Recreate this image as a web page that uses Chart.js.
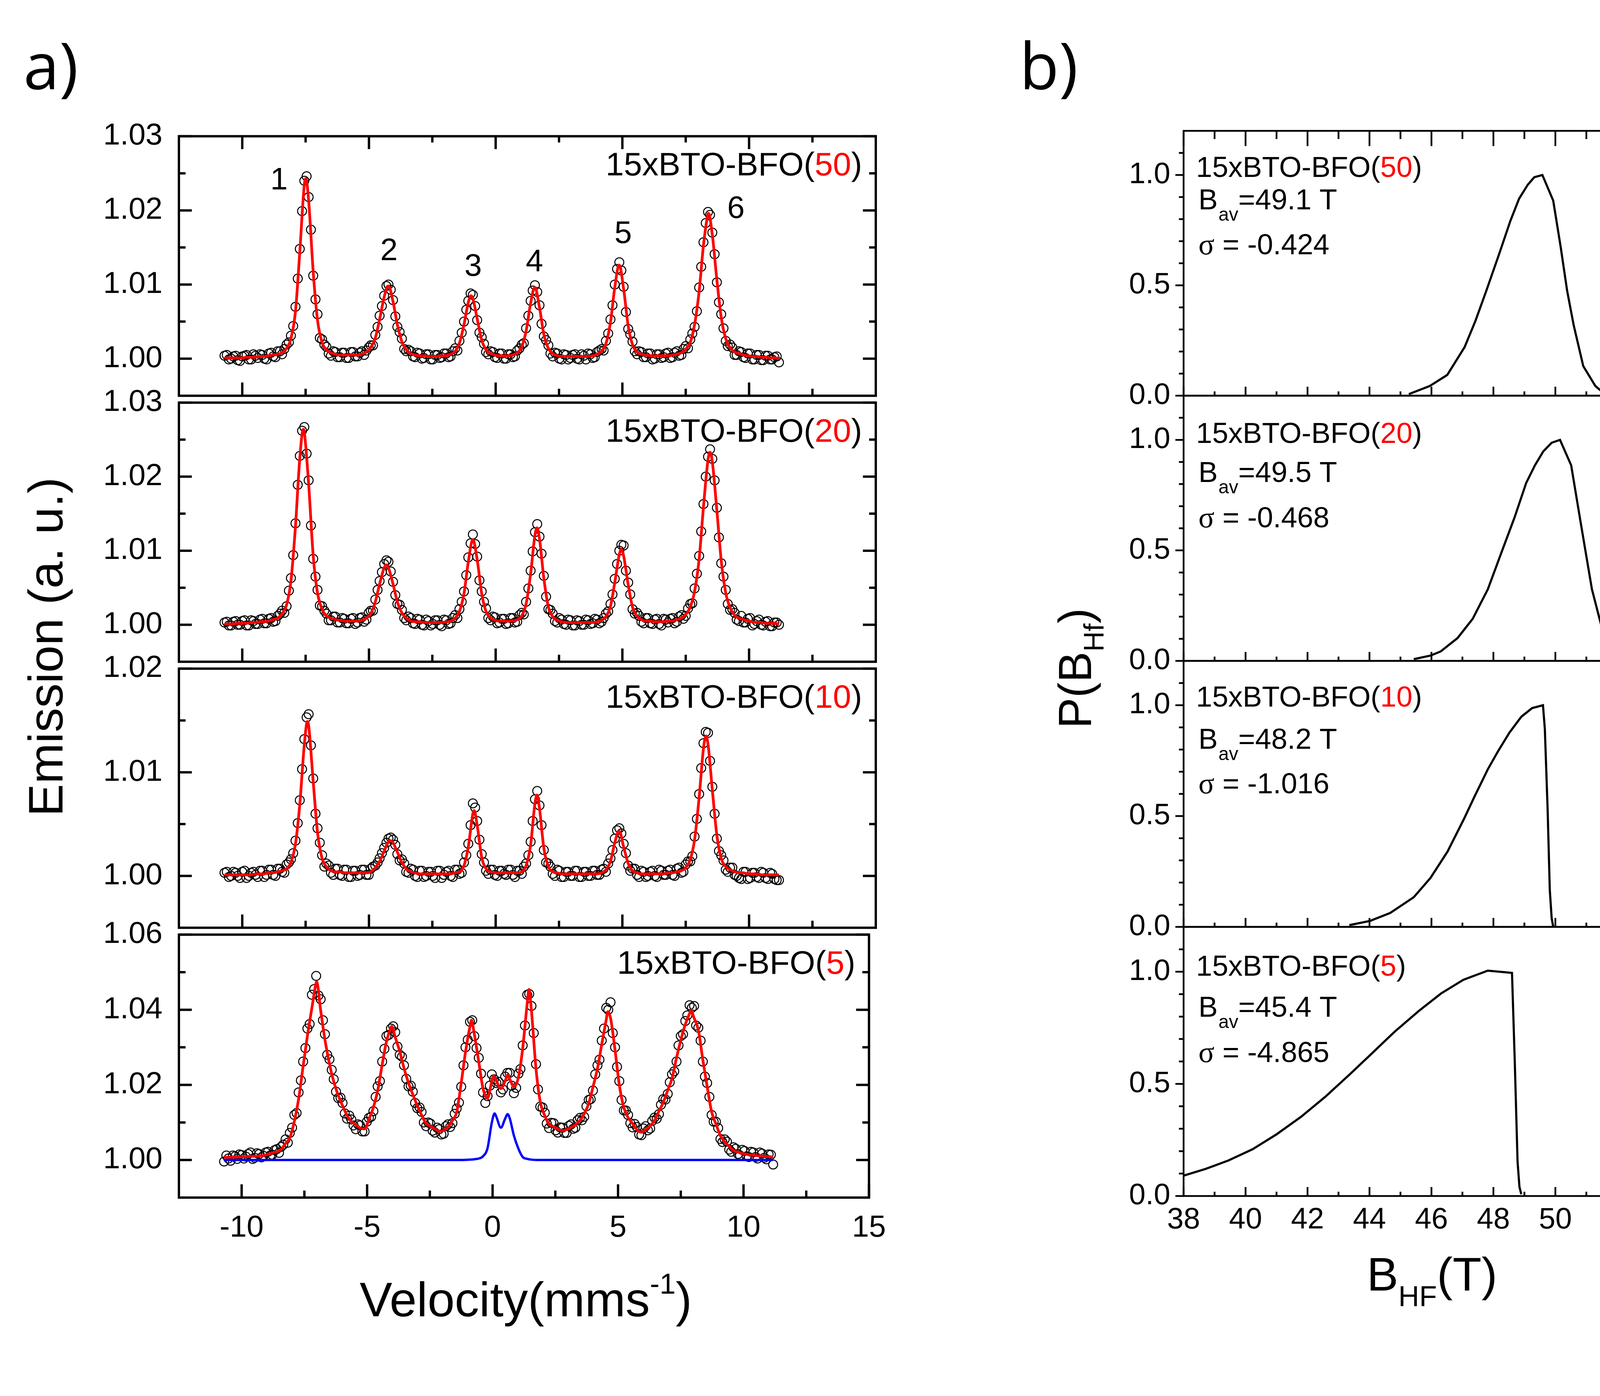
<!DOCTYPE html>
<html>
<head>
<meta charset="utf-8">
<script src="https://cdn.jsdelivr.net/npm/chart.js@4.4.0/dist/chart.umd.min.js"></script>
<style>
  body { margin: 0; background: #fff; width: 4499px; height: 3574px; position: relative; overflow: hidden; }
  canvas { position: absolute; }
  #labels { position: absolute; left: 0; top: 0; }
</style>
</head>
<body>
<svg id="labels" width="4499" height="3574" viewBox="0 0 4499 3574">
  <g font-family="'Liberation Sans', Arial, sans-serif" fill="#000">
    <text x="60" y="228" font-family="'Open Sans', sans-serif" font-size="165">a)</text>
    <text x="2610" y="228" font-family="'Open Sans', sans-serif" font-size="165">b)</text>
    <text transform="translate(160,1656) rotate(-90)" text-anchor="middle" font-size="125">Emission (a. u.)</text>
    <text x="1346" y="3370" text-anchor="middle" font-size="125">Velocity(mms<tspan font-size="74" dy="-58">-1</tspan><tspan dy="58">)</tspan></text>
    <text transform="translate(2793,1711) rotate(-90)" text-anchor="middle" font-size="118">P(B<tspan font-size="72" dy="32">Hf</tspan><tspan dy="-32">)</tspan></text>
    <text x="3666" y="3304" text-anchor="middle" font-size="121">B<tspan font-size="74" dy="40">HF</tspan><tspan dy="-40">(T)</tspan></text>
  </g>
</svg>
<script>
// ---- Mossbauer spectra: channel velocities (mm/s), two interleaved sets
const velocity = [
  -10.70,-10.53,-10.35,-10.18,-10.00,-9.83,-9.65,-9.48,-9.30,-9.13,
  -8.95,-8.78,-8.60,-8.43,-8.25,-8.08,-7.90,-7.73,-7.55,-7.38,
  -7.20,-7.03,-6.85,-6.68,-6.50,-6.33,-6.15,-5.98,-5.80,-5.63,
  -5.45,-5.28,-5.10,-4.93,-4.75,-4.58,-4.40,-4.23,-4.05,-3.88,
  -3.70,-3.53,-3.35,-3.18,-3.00,-2.83,-2.65,-2.48,-2.30,-2.13,
  -1.95,-1.78,-1.60,-1.43,-1.25,-1.08,-0.90,-0.73,-0.55,-0.38,
  -0.20,-0.03,0.15,0.33,0.50,0.68,0.85,1.03,1.20,1.38,
  1.55,1.73,1.90,2.08,2.25,2.43,2.60,2.78,2.95,3.13,
  3.30,3.48,3.65,3.83,4.00,4.18,4.35,4.53,4.70,4.88,
  5.05,5.23,5.40,5.58,5.75,5.93,6.10,6.28,6.45,6.63,
  6.80,6.98,7.15,7.33,7.50,7.68,7.85,8.03,8.20,8.38,
  8.55,8.73,8.90,9.08,9.25,9.43,9.60,9.78,9.95,10.13,
  10.30,10.48,10.65,10.83,11.00,11.18
];
const velocityB = [
  -10.61,-10.44,-10.26,-10.09,-9.91,-9.74,-9.56,-9.39,-9.21,-9.04,
  -8.86,-8.69,-8.51,-8.34,-8.16,-7.99,-7.81,-7.64,-7.46,-7.29,
  -7.11,-6.94,-6.76,-6.59,-6.41,-6.24,-6.06,-5.89,-5.71,-5.54,
  -5.36,-5.19,-5.01,-4.84,-4.66,-4.49,-4.31,-4.14,-3.96,-3.79,
  -3.61,-3.44,-3.26,-3.09,-2.91,-2.74,-2.56,-2.39,-2.21,-2.04,
  -1.86,-1.69,-1.51,-1.34,-1.16,-0.99,-0.81,-0.64,-0.46,-0.29,
  -0.11,0.06,0.24,0.41,0.59,0.76,0.94,1.11,1.29,1.46,
  1.64,1.81,1.99,2.16,2.34,2.51,2.69,2.86,3.04,3.21,
  3.39,3.56,3.74,3.91,4.09,4.26,4.44,4.61,4.79,4.96,
  5.14,5.31,5.49,5.66,5.84,6.01,6.19,6.36,6.54,6.71,
  6.89,7.06,7.24,7.41,7.59,7.76,7.94,8.11,8.29,8.46,
  8.64,8.81,8.99,9.16,9.34,9.51,9.69,9.86,10.04,10.21,
  10.39,10.56,10.74,10.91,11.09
];

// 15xBTO-BFO(50)
const obs50 = [
  1.0004,0.9999,1.0003,0.9998,1.0003,1.0005,0.9999,1.0004,1.0006,1.0000,
  1.0007,1.0003,1.0010,1.0006,1.0019,1.0031,1.0070,1.0148,1.0240,1.0218,
  1.0112,1.0060,1.0026,1.0016,1.0004,1.0009,1.0002,1.0008,1.0001,1.0009,
  1.0003,1.0010,1.0011,1.0018,1.0032,1.0058,1.0085,1.0100,1.0079,1.0043,
  1.0027,1.0010,1.0010,1.0002,1.0007,1.0001,1.0006,0.9999,1.0005,1.0002,
  1.0007,1.0003,1.0014,1.0024,1.0050,1.0078,1.0086,1.0052,1.0029,1.0009,
  1.0010,1.0002,1.0007,1.0000,1.0006,1.0002,1.0011,1.0019,1.0041,1.0078,
  1.0099,1.0072,1.0030,1.0018,1.0003,1.0007,0.9999,1.0005,1.0001,1.0006,
  0.9999,1.0004,1.0007,1.0001,1.0009,1.0013,1.0024,1.0053,1.0100,1.0130,
  1.0097,1.0040,1.0023,1.0006,1.0009,1.0002,1.0007,1.0000,1.0006,1.0002,
  1.0008,1.0002,1.0010,1.0005,1.0017,1.0026,1.0043,1.0096,1.0157,1.0198,
  1.0170,1.0103,1.0060,1.0024,1.0019,1.0005,1.0010,1.0002,1.0007,0.9999,
  1.0005,0.9998,1.0004,0.9999,1.0002,0.9995
];
const obs50b = [
  1.0005,1.0000,1.0004,0.9997,1.0004,0.9999,1.0006,1.0001,1.0005,0.9999,
  1.0008,1.0002,1.0010,1.0013,1.0022,1.0044,1.0108,1.0199,1.0246,1.0174,
  1.0080,1.0028,1.0019,1.0007,1.0010,1.0002,1.0008,1.0001,1.0009,1.0003,
  1.0008,1.0005,1.0015,1.0018,1.0043,1.0071,1.0098,1.0093,1.0057,1.0036,
  1.0013,1.0012,1.0003,1.0008,1.0000,1.0006,0.9999,1.0005,1.0001,1.0007,
  1.0002,1.0010,1.0011,1.0035,1.0066,1.0088,1.0071,1.0035,1.0020,1.0006,
  1.0009,1.0001,1.0007,1.0000,1.0006,1.0003,1.0014,1.0021,1.0058,1.0092,
  1.0090,1.0047,1.0025,1.0007,1.0008,1.0000,1.0006,0.9999,1.0005,1.0000,
  1.0006,0.9999,1.0006,1.0002,1.0011,1.0011,1.0034,1.0072,1.0121,1.0119,
  1.0063,1.0033,1.0010,1.0010,1.0002,1.0007,0.9999,1.0006,1.0001,1.0007,
  1.0001,1.0008,1.0004,1.0013,1.0014,1.0034,1.0064,1.0124,1.0183,1.0194,
  1.0141,1.0076,1.0041,1.0017,1.0015,1.0005,1.0009,1.0001,1.0007,0.9999,
  1.0005,0.9998,1.0004,0.9999,1.0003
];
const fit50 = [
  1.0001,1.0001,1.0001,1.0001,1.0001,1.0002,1.0002,1.0002,1.0003,1.0003,
  1.0004,1.0005,1.0006,1.0008,1.0014,1.0027,1.0064,1.0144,1.0235,1.0213,
  1.0117,1.0052,1.0022,1.0012,1.0008,1.0006,1.0005,1.0005,1.0005,1.0005,
  1.0005,1.0006,1.0009,1.0015,1.0028,1.0053,1.0083,1.0098,1.0077,1.0046,
  1.0023,1.0012,1.0007,1.0005,1.0004,1.0004,1.0003,1.0003,1.0003,1.0004,
  1.0004,1.0006,1.0010,1.0021,1.0046,1.0076,1.0081,1.0054,1.0025,1.0012,
  1.0007,1.0005,1.0004,1.0004,1.0004,1.0005,1.0008,1.0016,1.0037,1.0075,
  1.0096,1.0069,1.0033,1.0014,1.0007,1.0004,1.0003,1.0003,1.0003,1.0003,
  1.0003,1.0003,1.0003,1.0004,1.0006,1.0010,1.0020,1.0049,1.0096,1.0126,
  1.0094,1.0044,1.0019,1.0009,1.0006,1.0005,1.0004,1.0004,1.0004,1.0004,
  1.0004,1.0005,1.0006,1.0008,1.0013,1.0022,1.0046,1.0091,1.0153,1.0195,
  1.0167,1.0106,1.0056,1.0027,1.0015,1.0009,1.0007,1.0005,1.0004,1.0003,
  1.0003,1.0002,1.0002,1.0001,1.0001,1.0001
];
const apex50 = [[-7.49,1.0243],[-4.25,1.0098],[-0.97,1.0085],[1.54,1.0096],[4.87,1.0126],[8.40,1.0196]];

// 15xBTO-BFO(20)
const obs20 = [
  1.0003,0.9999,1.0004,1.0000,1.0005,0.9999,1.0006,1.0001,1.0007,1.0002,
  1.0008,1.0004,1.0012,1.0019,1.0025,1.0063,1.0137,1.0228,1.0267,1.0195,
  1.0089,1.0047,1.0025,1.0015,1.0006,1.0011,1.0003,1.0008,1.0002,1.0009,
  1.0003,1.0010,1.0007,1.0019,1.0034,1.0059,1.0082,1.0085,1.0058,1.0028,
  1.0020,1.0006,1.0009,1.0001,1.0007,0.9999,1.0005,1.0001,1.0006,0.9998,
  1.0006,1.0002,1.0013,1.0021,1.0045,1.0091,1.0122,1.0092,1.0045,1.0022,
  1.0006,1.0010,1.0003,1.0008,1.0002,1.0009,1.0004,1.0016,1.0031,1.0073,
  1.0125,1.0119,1.0066,1.0021,1.0015,1.0003,1.0007,1.0000,1.0006,0.9999,
  1.0005,1.0000,1.0006,1.0002,1.0007,1.0004,1.0015,1.0028,1.0062,1.0100,
  1.0107,1.0057,1.0021,1.0016,1.0004,1.0009,1.0002,1.0007,1.0001,1.0008,
  1.0003,1.0009,1.0004,1.0013,1.0012,1.0028,1.0049,1.0093,1.0163,1.0227,
  1.0224,1.0158,1.0083,1.0047,1.0020,1.0016,1.0005,1.0003,1.0008,0.9999,
  1.0005,1.0000,1.0004,0.9998,1.0003,1.0000
];
const obs20b = [
  1.0004,0.9999,1.0005,1.0000,1.0006,0.9999,1.0005,1.0001,1.0008,1.0002,
  1.0009,1.0005,1.0015,1.0016,1.0046,1.0094,1.0189,1.0262,1.0231,1.0134,
  1.0065,1.0026,1.0019,1.0006,1.0011,1.0003,1.0009,1.0002,1.0008,1.0001,
  1.0009,1.0004,1.0016,1.0019,1.0047,1.0071,1.0087,1.0072,1.0040,1.0027,
  1.0009,1.0011,1.0002,1.0008,1.0000,1.0007,0.9999,1.0006,1.0000,1.0007,
  1.0001,1.0009,1.0009,1.0031,1.0067,1.0110,1.0109,1.0060,1.0031,1.0009,
  1.0011,1.0002,1.0008,1.0001,1.0009,1.0003,1.0013,1.0014,1.0049,1.0099,
  1.0136,1.0096,1.0038,1.0020,1.0005,1.0009,1.0001,1.0007,0.9999,1.0006,
  1.0000,1.0007,1.0001,1.0008,1.0002,1.0009,1.0018,1.0041,1.0082,1.0108,
  1.0073,1.0041,1.0015,1.0012,1.0002,1.0009,1.0001,1.0008,0.9999,1.0007,
  1.0008,1.0002,1.0011,1.0008,1.0022,1.0029,1.0069,1.0126,1.0200,1.0237,
  1.0195,1.0118,1.0065,1.0028,1.0021,1.0007,1.0012,1.0003,1.0009,1.0001,
  1.0007,0.9999,1.0005,0.9998,1.0003
];
const fit20 = [
  1.0001,1.0001,1.0001,1.0002,1.0002,1.0002,1.0003,1.0003,1.0004,1.0004,
  1.0005,1.0007,1.0009,1.0015,1.0027,1.0059,1.0133,1.0225,1.0260,1.0190,
  1.0093,1.0043,1.0021,1.0012,1.0009,1.0007,1.0006,1.0005,1.0005,1.0005,
  1.0005,1.0006,1.0009,1.0015,1.0031,1.0055,1.0077,1.0077,1.0055,1.0031,
  1.0016,1.0009,1.0005,1.0004,1.0004,1.0003,1.0003,1.0003,1.0003,1.0003,
  1.0004,1.0005,1.0009,1.0018,1.0042,1.0085,1.0115,1.0088,1.0042,1.0018,
  1.0009,1.0006,1.0005,1.0005,1.0005,1.0005,1.0007,1.0012,1.0028,1.0069,
  1.0121,1.0116,1.0063,1.0024,1.0011,1.0006,1.0004,1.0003,1.0003,1.0003,
  1.0003,1.0003,1.0003,1.0003,1.0004,1.0006,1.0011,1.0025,1.0057,1.0095,
  1.0093,1.0054,1.0024,1.0012,1.0007,1.0005,1.0005,1.0004,1.0004,1.0004,
  1.0005,1.0005,1.0007,1.0009,1.0014,1.0024,1.0045,1.0089,1.0159,1.0223,
  1.0220,1.0154,1.0087,1.0043,1.0023,1.0013,1.0009,1.0007,1.0005,1.0004,
  1.0003,1.0003,1.0002,1.0002,1.0002,1.0001
];
const apex20 = [[-7.59,1.0264],[-4.31,1.0081],[1.63,1.0131],[4.96,1.0102],[8.46,1.0233]];

// 15xBTO-BFO(10)
const obs10 = [
  1.0003,0.9999,1.0004,1.0000,1.0004,0.9998,1.0003,1.0001,1.0005,0.9999,
  1.0006,1.0001,1.0007,1.0004,1.0011,1.0016,1.0034,1.0073,1.0132,1.0156,
  1.0094,1.0046,1.0020,1.0012,1.0003,1.0007,1.0001,1.0006,0.9999,1.0005,
  1.0000,1.0006,1.0001,1.0007,1.0010,1.0017,1.0027,1.0036,1.0035,1.0021,
  1.0016,1.0004,1.0007,1.0000,1.0005,0.9999,1.0004,1.0000,1.0005,0.9998,
  1.0004,1.0000,1.0006,1.0002,1.0013,1.0031,1.0070,1.0053,1.0021,1.0005,
  1.0006,1.0001,1.0005,1.0002,1.0006,1.0001,1.0005,1.0002,1.0012,1.0033,
  1.0074,1.0068,1.0025,1.0012,1.0002,1.0006,0.9999,1.0004,1.0000,1.0005,
  0.9999,1.0004,1.0000,1.0005,1.0001,1.0006,1.0004,1.0017,1.0036,1.0046,
  1.0031,1.0010,1.0007,1.0001,1.0005,0.9999,1.0004,1.0000,1.0006,1.0001,
  1.0005,1.0001,1.0007,1.0003,1.0011,1.0014,1.0038,1.0079,1.0128,1.0138,
  1.0086,1.0036,1.0020,1.0006,1.0008,1.0001,0.9998,1.0004,0.9997,1.0003,
  0.9999,1.0004,0.9998,1.0003,0.9997,0.9996
];
const obs10b = [
  1.0004,1.0000,1.0003,0.9998,1.0005,1.0000,1.0004,0.9999,1.0005,1.0001,
  1.0006,1.0000,1.0007,1.0003,1.0013,1.0022,1.0051,1.0103,1.0153,1.0126,
  1.0060,1.0032,1.0009,1.0010,1.0001,1.0007,1.0000,1.0006,0.9999,1.0005,
  1.0001,1.0006,1.0001,1.0009,1.0013,1.0022,1.0032,1.0037,1.0030,1.0015,
  1.0012,1.0003,1.0006,0.9999,1.0005,1.0000,1.0004,0.9998,1.0005,1.0001,
  1.0005,0.9999,1.0006,1.0003,1.0020,1.0049,1.0066,1.0035,1.0013,1.0002,
  1.0006,1.0000,1.0005,1.0001,1.0006,0.9999,1.0005,1.0009,1.0020,1.0053,
  1.0082,1.0049,1.0013,1.0009,1.0000,1.0005,0.9999,1.0004,1.0000,1.0005,
  0.9999,1.0004,1.0000,1.0005,1.0001,1.0007,1.0012,1.0025,1.0044,1.0041,
  1.0022,1.0005,1.0007,0.9999,1.0004,1.0000,1.0005,0.9999,1.0005,1.0001,
  1.0006,1.0000,1.0008,1.0004,1.0014,1.0019,1.0055,1.0104,1.0139,1.0111,
  1.0060,1.0024,1.0015,1.0004,1.0008,1.0000,0.9997,1.0004,0.9998,1.0003,
  0.9998,1.0003,0.9997,1.0002,0.9996
];
const fit10 = [
  1.0001,1.0001,1.0001,1.0001,1.0001,1.0001,1.0001,1.0002,1.0002,1.0002,
  1.0003,1.0003,1.0004,1.0005,1.0007,1.0013,1.0031,1.0069,1.0127,1.0145,
  1.0091,1.0042,1.0017,1.0009,1.0005,1.0004,1.0004,1.0003,1.0003,1.0003,
  1.0003,1.0003,1.0003,1.0004,1.0008,1.0014,1.0024,1.0033,1.0032,1.0023,
  1.0013,1.0007,1.0004,1.0003,1.0002,1.0002,1.0002,1.0002,1.0002,1.0002,
  1.0002,1.0002,1.0003,1.0004,1.0010,1.0028,1.0060,1.0049,1.0018,1.0007,
  1.0004,1.0003,1.0003,1.0003,1.0003,1.0003,1.0003,1.0004,1.0010,1.0030,
  1.0070,1.0065,1.0027,1.0009,1.0004,1.0003,1.0002,1.0002,1.0002,1.0002,
  1.0002,1.0002,1.0002,1.0002,1.0002,1.0003,1.0006,1.0014,1.0032,1.0043,
  1.0028,1.0012,1.0005,1.0003,1.0002,1.0002,1.0002,1.0002,1.0002,1.0002,
  1.0003,1.0003,1.0004,1.0005,1.0008,1.0016,1.0035,1.0076,1.0123,1.0127,
  1.0083,1.0039,1.0017,1.0009,1.0006,1.0004,1.0003,1.0003,1.0002,1.0002,
  1.0002,1.0001,1.0001,1.0001,1.0001,1.0001
];
const apex10 = [[-7.43,1.0149],[-4.15,1.0034],[-0.85,1.0063],[1.63,1.0078],[4.86,1.0043],[8.30,1.0135]];

// 15xBTO-BFO(5)
const obs5 = [
  0.9996,1.0004,1.0012,1.0003,1.0013,1.0009,1.0020,1.0006,1.0016,1.0011,
  1.0022,1.0014,1.0029,1.0035,1.0055,1.0072,1.0120,1.0180,1.0262,1.0350,
  1.0440,1.0490,1.0428,1.0335,1.0268,1.0215,1.0165,1.0152,1.0110,1.0108,
  1.0082,1.0092,1.0076,1.0112,1.0130,1.0196,1.0262,1.0330,1.0350,1.0340,
  1.0280,1.0252,1.0196,1.0182,1.0138,1.0128,1.0090,1.0097,1.0073,1.0082,
  1.0070,1.0095,1.0098,1.0137,1.0195,1.0300,1.0368,1.0330,1.0272,1.0180,
  1.0170,1.0228,1.0205,1.0180,1.0222,1.0232,1.0178,1.0230,1.0305,1.0440,
  1.0410,1.0255,1.0142,1.0126,1.0085,1.0098,1.0073,1.0086,1.0072,1.0095,
  1.0086,1.0112,1.0115,1.0160,1.0185,1.0252,1.0318,1.0405,1.0420,1.0300,
  1.0210,1.0132,1.0120,1.0087,1.0088,1.0066,1.0090,1.0084,1.0113,1.0122,
  1.0162,1.0176,1.0228,1.0262,1.0330,1.0370,1.0412,1.0410,1.0352,1.0262,
  1.0205,1.0120,1.0102,1.0056,1.0055,1.0028,1.0034,1.0016,1.0027,1.0010,
  1.0022,1.0008,1.0020,1.0006,1.0015,0.9988
];
const obs5b = [
  1.0012,0.9998,1.0010,1.0015,1.0004,1.0016,1.0003,1.0018,1.0007,1.0020,
  1.0012,1.0026,1.0019,1.0041,1.0046,1.0086,1.0125,1.0212,1.0298,1.0362,
  1.0455,1.0438,1.0372,1.0280,1.0240,1.0182,1.0166,1.0124,1.0118,1.0092,
  1.0095,1.0076,1.0102,1.0115,1.0168,1.0210,1.0296,1.0333,1.0356,1.0302,
  1.0275,1.0216,1.0198,1.0152,1.0140,1.0100,1.0100,1.0078,1.0086,1.0068,
  1.0090,1.0088,1.0123,1.0153,1.0252,1.0320,1.0372,1.0298,1.0230,1.0152,
  1.0198,1.0215,1.0208,1.0188,1.0232,1.0198,1.0192,1.0242,1.0358,1.0442,
  1.0338,1.0188,1.0140,1.0097,1.0099,1.0079,1.0087,1.0072,1.0091,1.0083,
  1.0106,1.0106,1.0143,1.0162,1.0228,1.0267,1.0350,1.0400,1.0338,1.0248,
  1.0160,1.0132,1.0098,1.0096,1.0068,1.0084,1.0079,1.0104,1.0110,1.0147,
  1.0161,1.0207,1.0236,1.0305,1.0335,1.0385,1.0405,1.0358,1.0318,1.0222,
  1.0168,1.0102,1.0085,1.0048,1.0049,1.0022,1.0030,1.0012,1.0024,1.0008,
  1.0020,1.0004,1.0017,1.0002,1.0014
];
const fit5 = [
  1.0007,1.0007,1.0008,1.0008,1.0009,1.0009,1.0010,1.0010,1.0011,1.0012,
  1.0015,1.0019,1.0022,1.0028,1.0044,1.0059,1.0103,1.0162,1.0250,1.0330,
  1.0405,1.0472,1.0398,1.0320,1.0256,1.0209,1.0172,1.0145,1.0119,1.0103,
  1.0094,1.0085,1.0083,1.0108,1.0140,1.0184,1.0254,1.0315,1.0352,1.0327,
  1.0289,1.0245,1.0205,1.0175,1.0145,1.0120,1.0097,1.0090,1.0083,1.0076,
  1.0079,1.0088,1.0105,1.0128,1.0205,1.0287,1.0356,1.0336,1.0261,1.0190,
  1.0165,1.0210,1.0211,1.0190,1.0210,1.0216,1.0195,1.0220,1.0297,1.0417,
  1.0397,1.0243,1.0155,1.0118,1.0096,1.0089,1.0083,1.0078,1.0081,1.0087,
  1.0094,1.0105,1.0123,1.0150,1.0194,1.0244,1.0308,1.0374,1.0378,1.0293,
  1.0200,1.0140,1.0113,1.0097,1.0081,1.0074,1.0081,1.0091,1.0105,1.0130,
  1.0153,1.0186,1.0217,1.0272,1.0319,1.0361,1.0390,1.0378,1.0346,1.0266,
  1.0196,1.0128,1.0096,1.0065,1.0049,1.0036,1.0025,1.0021,1.0018,1.0015,
  1.0013,1.0012,1.0011,1.0010,1.0009,1.0008
];
const apex5 = [[-7.01,1.0474],[-4.02,1.0356],[-0.84,1.0372],[0.04,1.0224],[0.60,1.0226],[1.45,1.0454],[4.59,1.0395],[7.90,1.0398]];
// paramagnetic doublet of sample 5 (blue)
const doublet5 = [
  [-10.70,1.0000],[-1.25,1.0000],[-0.90,1.0001],[-0.73,1.0002],[-0.55,1.0004],[-0.38,1.0010],
  [-0.20,1.0032],[-0.03,1.0100],[0.08,1.0124],[0.15,1.0115],[0.33,1.0086],[0.50,1.0110],
  [0.60,1.0122],[0.68,1.0112],[0.85,1.0065],[1.03,1.0030],[1.20,1.0008],[1.38,1.0003],
  [1.55,1.0001],[1.90,1.0000],[11.18,1.0000]
];

// ---- hyperfine field distributions P(B_hf), B in tesla
const pbhf50 = [[45.27,0.007],[45.95,0.044],[46.51,0.094],[47.07,0.220],[47.42,0.339],[47.77,0.475],[48.20,0.648],[48.55,0.793],[48.83,0.893],[49.11,0.956],[49.32,0.990],[49.58,1.000],[49.93,0.884],[50.17,0.675],[50.38,0.475],[50.59,0.320],[50.90,0.134],[51.29,0.044],[51.60,0.007]];
const pbhf20 = [[45.43,0.008],[45.97,0.024],[46.30,0.043],[46.84,0.103],[47.33,0.190],[47.82,0.324],[48.30,0.506],[48.68,0.648],[49.06,0.806],[49.34,0.885],[49.61,0.948],[49.88,0.987],[50.15,1.000],[50.51,0.885],[50.80,0.640],[51.18,0.324],[51.53,0.134],[51.88,0.043],[52.24,0.008]];
const pbhf10 = [[43.35,0.008],[44.02,0.027],[44.67,0.063],[45.43,0.134],[45.97,0.221],[46.52,0.340],[47.06,0.490],[47.38,0.585],[47.82,0.711],[48.14,0.790],[48.52,0.877],[48.90,0.948],[49.25,0.987],[49.60,1.000],[49.66,0.893],[49.75,0.530],[49.82,0.166],[49.88,0.040],[49.93,0.000]];
const pbhf5 = [[38.00,0.091],[38.71,0.121],[39.44,0.158],[40.22,0.208],[41.00,0.275],[41.79,0.353],[42.57,0.442],[43.36,0.542],[44.08,0.636],[44.80,0.731],[45.59,0.825],[46.31,0.903],[47.03,0.964],[47.82,1.005],[48.60,0.995],[48.69,0.597],[48.78,0.152],[48.84,0.041],[48.90,0.008]];

// ---- labels and ticks
const samples = ['50', '20', '10', '5'];
const bAverage = ['49.1', '49.5', '48.2', '45.4'];
const sigmaValues = ['-0.424', '-0.468', '-1.016', '-4.865'];
const peakNames = ['1', '2', '3', '4', '5', '6'];
const emissionRange = [[0.995, 1.03], [0.995, 1.03], [0.995, 1.02], [0.99, 1.06]];
const emissionTicks = [[1.00, 1.01, 1.02, 1.03], [1.00, 1.01, 1.02, 1.03], [1.00, 1.01, 1.02], [1.00, 1.02, 1.04, 1.06]];
const emissionMinor = [[1.005, 1.015, 1.025], [1.005, 1.015, 1.025], [1.005, 1.015], [1.01, 1.03, 1.05]];
const velocityTicks = [-10, -5, 0, 5, 10, 15];
const velocityMinor = [-7.5, -2.5, 2.5, 7.5, 12.5];
const fieldTicks = [38, 40, 42, 44, 46, 48, 50, 52, 54];
const fieldMinor = [39, 41, 43, 45, 47, 49, 51, 53];
const probTicks = [0, 0.5, 1.0];
const probMinor = [0.1, 0.2, 0.3, 0.4, 0.6, 0.7, 0.8, 0.9, 1.1];

const spectra = [
  { obs: obs50, obsB: obs50b, fit: fit50, apex: apex50 },
  { obs: obs20, obsB: obs20b, fit: fit20, apex: apex20 },
  { obs: obs10, obsB: obs10b, fit: fit10, apex: apex10 },
  { obs: obs5, obsB: obs5b, fit: fit5, apex: apex5, doublet: doublet5 }
];
const distributions = [pbhf50, pbhf20, pbhf10, pbhf5];

/* ------------------------------------------------
# LAYOUT
-------------------------------------------------*/
const FONT = "'Liberation Sans', Arial, sans-serif";
Chart.defaults.font.family = FONT;
Chart.defaults.color = '#000';

const leftTops = [340, 1022, 1703, 2384], leftHeights = [682, 681, 681, 682];
const rightTops = [335, 1013, 1692, 2373], rightHeights = [678, 679, 681, 689];
// baselines of the sample label, B_av line and sigma line, from panel top
const rightTextY = [[118, 201, 316], [121, 221, 337], [117, 225, 339], [125, 230, 346]];
const PAD = 80;
const overlay = document.getElementById('labels');

function makeCanvas(left, top, w, h) {
  const c = document.createElement('canvas');
  c.width = w; c.height = h;
  c.style.left = left + 'px'; c.style.top = top + 'px';
  c.style.width = w + 'px'; c.style.height = h + 'px';
  document.body.insertBefore(c, overlay);
  return c;
}

function toPoints(xs, ys, extra) {
  const pts = xs.map((x, i) => ({ x: x, y: ys[i] }));
  (extra || []).forEach(p => pts.push({ x: p[0], y: p[1] }));
  return pts.sort((a, b) => a.x - b.x);
}

// frame box with ticks; top ticks only where asked, left ticks may point outward
function framePlugin(t) {
  return {
    id: 'frame',
    afterDatasetsDraw(chart) {
      const { ctx, chartArea: a } = chart;
      const sx = chart.scales.x, sy = chart.scales.y;
      ctx.save();
      ctx.strokeStyle = '#000';
      ctx.lineWidth = t.lw;
      ctx.beginPath();
      const xt = (vals, y0, len) => vals.forEach(v => {
        const p = sx.getPixelForValue(v);
        ctx.moveTo(p, y0); ctx.lineTo(p, y0 + len);
      });
      const yt = (vals, x0, len) => vals.forEach(v => {
        const p = sy.getPixelForValue(v);
        ctx.moveTo(x0, p); ctx.lineTo(x0 + len, p);
      });
      if (t.top) { xt(t.xMajor, a.top, t.top[0]); xt(t.xMinor, a.top, t.top[1]); }
      xt(t.xMajor, a.bottom, -t.bot[0]); xt(t.xMinor, a.bottom, -t.bot[1]);
      const dir = t.leftOut ? -1 : 1;
      yt(t.yMajor, a.left, dir * t.left[0]); yt(t.yMinor, a.left, dir * t.left[1]);
      yt(t.yMajor, a.right, -t.right[0]); yt(t.yMinor, a.right, -t.right[1]);
      ctx.stroke();
      ctx.strokeRect(a.left, a.top, a.right - a.left, a.bottom - a.top);
      ctx.restore();
    }
  };
}

function sampleLabel(ctx, x, y, n, align) {
  const head = '15xBTO-BFO(', tail = ')';
  const wh = ctx.measureText(head).width, wn = ctx.measureText(n).width, wt = ctx.measureText(tail).width;
  const x0 = align === 'right' ? x - (wh + wn + wt) : x;
  ctx.textAlign = 'left';
  ctx.fillStyle = '#000'; ctx.fillText(head, x0, y);
  ctx.fillStyle = '#ff0000'; ctx.fillText(n, x0 + wh, y);
  ctx.fillStyle = '#000'; ctx.fillText(tail, x0 + wh + wn, y);
}

// peak numbers of the top spectrum (data coordinates)
const peakLabelAt = [[-8.55, 1.0228], [-4.21, 1.0133], [-0.89, 1.0112], [1.53, 1.0118], [5.03, 1.0156], [9.48, 1.0190]];

/* ------------------------------------------------
# a) SPECTRA
-------------------------------------------------*/
spectra.forEach((sp, k) => {
  const bottom = k === 3;
  const h = PAD + leftHeights[k] + (bottom ? 200 : PAD);
  const canvas = makeCanvas(0, leftTops[k] - PAD, 2300, h);

  const datasets = [{
    data: toPoints(velocity, sp.fit, sp.apex),
    showLine: true, borderColor: '#ff0000', borderWidth: 7,
    pointRadius: 0, cubicInterpolationMode: 'monotone'
  }];
  if (sp.doublet) {
    datasets.push({
      data: sp.doublet.map(p => ({ x: p[0], y: p[1] })),
      showLine: true, borderColor: '#0000ff', borderWidth: 6,
      pointRadius: 0, cubicInterpolationMode: 'monotone'
    });
  }
  datasets.push({
    data: toPoints(velocity, sp.obs).concat(toPoints(velocityB, sp.obsB)),
    showLine: false, pointRadius: 11.5, borderWidth: 2.5,
    borderColor: '#000', backgroundColor: 'rgba(0,0,0,0)'
  });

  new Chart(canvas, {
    type: 'scatter',
    data: { datasets: datasets },
    options: {
      responsive: false, animation: false, devicePixelRatio: 1,
      layout: { padding: { top: PAD, right: 58, bottom: bottom ? 0 : PAD, left: 0 } },
      plugins: { legend: { display: false }, tooltip: { enabled: false } },
      scales: {
        x: {
          type: 'linear', min: -12.5, max: 15, display: bottom,
          grid: { display: false, drawTicks: false }, border: { display: false },
          ticks: { font: { size: 78 }, padding: 32, autoSkip: false, maxRotation: 0, callback: v => String(v) },
          afterBuildTicks: s => { s.ticks = velocityTicks.map(v => ({ value: v })); },
          afterFit: s => { s.height = bottom ? 200 : 0; }
        },
        y: {
          type: 'linear', min: emissionRange[k][0], max: emissionRange[k][1],
          grid: { display: false, drawTicks: false }, border: { display: false },
          ticks: { font: { size: 78 }, padding: 42, autoSkip: false, callback: v => Number(v).toFixed(2) },
          afterBuildTicks: s => { s.ticks = emissionTicks[k].map(v => ({ value: v })); },
          afterFit: s => { s.width = 458; }
        }
      }
    },
    plugins: [
      framePlugin({ lw: 6, xMajor: velocityTicks, xMinor: velocityMinor,
                    top: k === 0 ? [33, 16] : null, bot: [34, 18],
                    yMajor: emissionTicks[k], yMinor: emissionMinor[k], left: [33, 17], right: [33, 17] }),
      {
        id: 'texts',
        afterDraw(chart) {
          const { ctx, chartArea: a } = chart;
          ctx.save();
          ctx.textBaseline = 'alphabetic';
          ctx.font = '84px ' + FONT;
          sampleLabel(ctx, a.right - 35, a.top + 100, samples[k], 'right');
          if (k === 0) {
            ctx.font = '80px ' + FONT;
            ctx.textAlign = 'center';
            ctx.fillStyle = '#000';
            peakNames.forEach((n, i) => {
              ctx.fillText(n, chart.scales.x.getPixelForValue(peakLabelAt[i][0]),
                              chart.scales.y.getPixelForValue(peakLabelAt[i][1]));
            });
          }
          ctx.restore();
        }
      }
    ]
  });
});

/* ------------------------------------------------
# b) FIELD DISTRIBUTIONS
-------------------------------------------------*/
distributions.forEach((dist, k) => {
  const bottom = k === 3;
  const h = PAD + rightHeights[k] + (bottom ? 200 : PAD);
  const canvas = makeCanvas(2700, rightTops[k] - PAD, 1700, h);

  new Chart(canvas, {
    type: 'scatter',
    data: { datasets: [{
      data: dist.map(p => ({ x: p[0], y: p[1] })),
      showLine: true, borderColor: '#000', borderWidth: 5.5, pointRadius: 0, tension: 0
    }] },
    options: {
      responsive: false, animation: false, devicePixelRatio: 1,
      layout: { padding: { top: PAD, right: 101, bottom: bottom ? 0 : PAD, left: 0 } },
      plugins: { legend: { display: false }, tooltip: { enabled: false } },
      scales: {
        x: {
          type: 'linear', min: 38, max: 54, display: bottom,
          grid: { display: false, drawTicks: false }, border: { display: false },
          ticks: { font: { size: 76 }, padding: 16, autoSkip: false, maxRotation: 0, callback: v => String(v) },
          afterBuildTicks: s => { s.ticks = fieldTicks.map(v => ({ value: v })); },
          afterFit: s => { s.height = bottom ? 200 : 0; }
        },
        y: {
          type: 'linear', min: 0, max: 1.2,
          grid: { display: false, drawTicks: false }, border: { display: false },
          ticks: { font: { size: 76 }, padding: 34, autoSkip: false, callback: v => Number(v).toFixed(1) },
          afterBuildTicks: s => { s.ticks = probTicks.map(v => ({ value: v })); },
          afterFit: s => { s.width = 330; }
        }
      }
    },
    plugins: [
      framePlugin({ lw: 4.5, xMajor: fieldTicks, xMinor: fieldMinor,
                    top: k === 0 ? [39, 21] : null, bot: [23, 11],
                    yMajor: probTicks, yMinor: probMinor, left: [21, 12], leftOut: true, right: [38, 16] }),
      {
        id: 'texts',
        afterDraw(chart) {
          const { ctx, chartArea: a } = chart;
          const ty = rightTextY[k];
          ctx.save();
          ctx.textBaseline = 'alphabetic';
          ctx.font = '74px ' + FONT;
          sampleLabel(ctx, a.left + 32, a.top + ty[0], samples[k], 'left');
          ctx.fillStyle = '#000';
          ctx.textAlign = 'left';
          const x0 = a.left + 38;
          ctx.fillText('B', x0, a.top + ty[1]);
          const wb = ctx.measureText('B').width;
          ctx.font = '48px ' + FONT;
          ctx.fillText('av', x0 + wb + 2, a.top + ty[1] + 29);
          const wav = ctx.measureText('av').width;
          ctx.font = '74px ' + FONT;
          ctx.fillText('=' + bAverage[k] + ' T', x0 + wb + 2 + wav, a.top + ty[1]);
          ctx.font = "76px 'Liberation Serif', serif";
          ctx.fillText('\u03c3', x0, a.top + ty[2]);
          const ws = ctx.measureText('\u03c3').width;
          ctx.font = '74px ' + FONT;
          ctx.fillText(' = ' + sigmaValues[k], x0 + ws, a.top + ty[2]);
          ctx.restore();
        }
      }
    ]
  });
});
</script>
</body>
</html>
